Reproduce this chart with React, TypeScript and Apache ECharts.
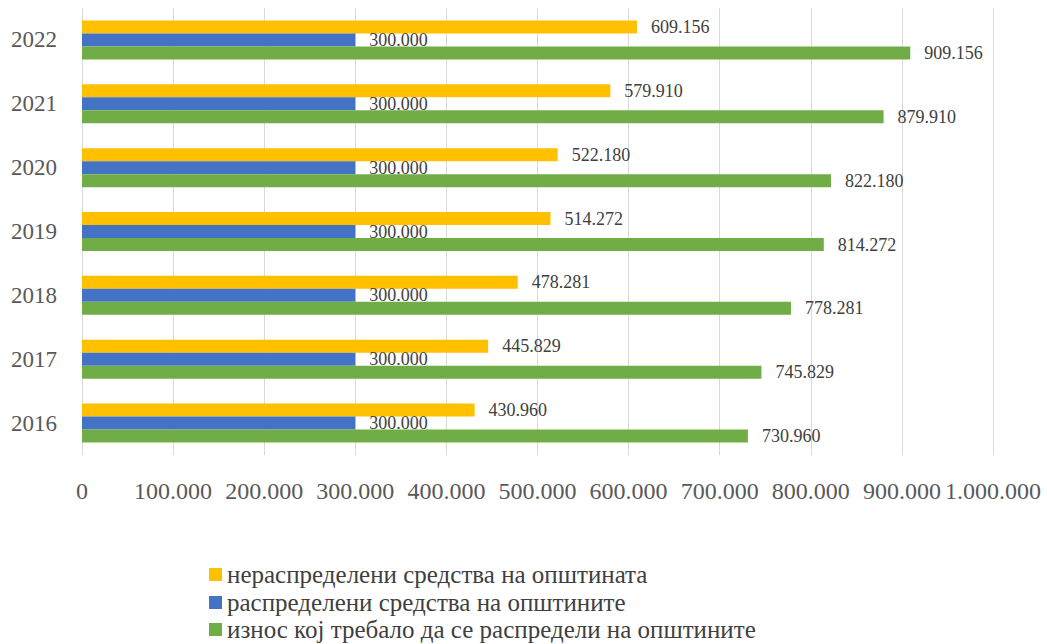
import React, { useEffect, useRef } from "react";
import * as echarts from "echarts";

const years = ["2016", "2017", "2018", "2019", "2020", "2021", "2022"];
const seriesNames = [
  "нераспределени средства на општината",
  "распределени средства на општините",
  "износ кој требало да се распредели на општините",
];
const undistributed = [430960, 445829, 478281, 514272, 522180, 579910, 609156];
const distributed = [300000, 300000, 300000, 300000, 300000, 300000, 300000];
const total = [730960, 745829, 778281, 814272, 822180, 879910, 909156];
const colors = ["#FFC000", "#4472C4", "#70AD47"];

const FONT = "Liberation Serif";
const fmt = (v: number) => {
  const s = Math.round(v).toString();
  return s.replace(/\B(?=(\d{3})+(?!\d))/g, ".");
};

export default function App() {
  const ref = useRef<HTMLDivElement>(null);
  useEffect(() => {
    if (!ref.current) return;
    const chart = echarts.init(ref.current, null, { renderer: "svg" });
    const label = {
      show: true,
      position: "right" as const,
      distance: 14,
      color: "#404040",
      fontFamily: FONT,
      fontSize: 18,
      formatter: (p: any) => fmt(p.value),
    };
    const datas = [undistributed, distributed, total];
    const legendTops = [562, 590, 617];
    chart.setOption({
      animation: false,
      grid: { left: 82, right: 54, top: 8, bottom: 189, containLabel: false },
      xAxis: {
        type: "value",
        min: 0,
        max: 1000000,
        interval: 100000,
        axisLine: { show: false },
        axisTick: { show: false },
        splitLine: { show: true, lineStyle: { color: "#d9d9d9", width: 1 } },
        axisLabel: {
          color: "#595959",
          fontFamily: FONT,
          fontSize: 24,
          margin: 24,
          formatter: (v: number) => fmt(v),
        },
      },
      yAxis: {
        type: "category",
        data: years,
        axisLine: { show: false },
        axisTick: { show: false },
        axisLabel: {
          color: "#595959",
          fontFamily: FONT,
          fontSize: 23,
          margin: 25,
        },
      },
      legend: seriesNames.map((name, i) => ({
        orient: "vertical",
        left: 209,
        top: legendTops[i],
        padding: 0,
        itemWidth: 13,
        itemHeight: 13,
        icon: "rect",
        textStyle: { color: "#404040", fontFamily: FONT, fontSize: 25 },
        data: [name],
      })),
      series: seriesNames.map((name, i) => ({
        name,
        type: "bar",
        data: datas[i],
        barWidth: 13,
        barGap: "0%",
        z: 2 + i,
        itemStyle: { color: colors[i] },
        label,
      })),
    });
    return () => chart.dispose();
  }, []);
  return (
    <div
      ref={ref}
      style={{ position: "absolute", left: 0, top: 0, width: 1047, height: 644 }}
    />
  );
}
